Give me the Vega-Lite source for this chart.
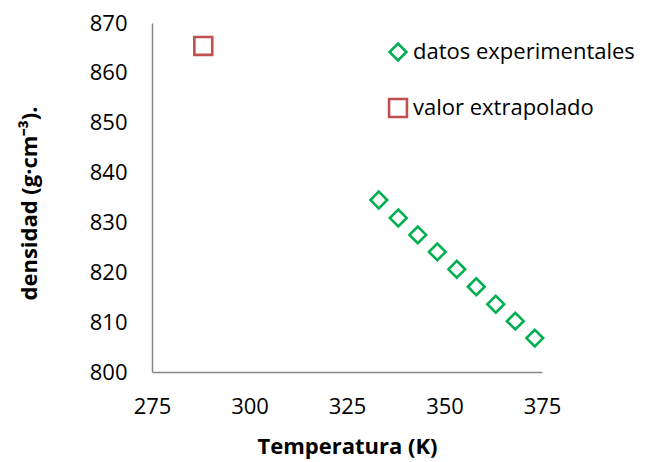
{
  "$schema": "https://vega.github.io/schema/vega-lite/v6.json",
  "width": 390,
  "height": 349,
  "autosize": {"type": "none"},
  "padding": {"left": 152, "top": 23, "right": 106, "bottom": 90},
  "background": "white",
  "config": {
    "view": {"stroke": null},
    "font": "Open Sans",
    "axis": {
      "grid": false,
      "ticks": false,
      "tickSize": 0,
      "domainColor": "#878787",
      "domainWidth": 1.5,
      "labelFont": "Open Sans",
      "labelFontSize": 22,
      "labelColor": "#000000",
      "titleFont": "Open Sans",
      "titleFontSize": 22,
      "titleFontWeight": "bold",
      "titleColor": "#000000"
    },
    "legend": {
      "labelFont": "Open Sans",
      "labelFontSize": 22,
      "labelColor": "#000000",
      "labelLimit": 400
    }
  },
  "data": {
    "values": [
      {"T": 333.15, "densidad": 834.5, "serie": "datos experimentales"},
      {"T": 338.15, "densidad": 830.9, "serie": "datos experimentales"},
      {"T": 343.15, "densidad": 827.5, "serie": "datos experimentales"},
      {"T": 348.15, "densidad": 824.1, "serie": "datos experimentales"},
      {"T": 353.15, "densidad": 820.6, "serie": "datos experimentales"},
      {"T": 358.15, "densidad": 817.1, "serie": "datos experimentales"},
      {"T": 363.15, "densidad": 813.6, "serie": "datos experimentales"},
      {"T": 368.15, "densidad": 810.2, "serie": "datos experimentales"},
      {"T": 373.15, "densidad": 806.8, "serie": "datos experimentales"},
      {"T": 288.15, "densidad": 865.4, "serie": "valor extrapolado"}
    ]
  },
  "mark": {"type": "point", "filled": false, "strokeWidth": 2.6, "opacity": 1},
  "encoding": {
    "x": {
      "field": "T",
      "type": "quantitative",
      "scale": {"domain": [275, 375], "nice": false, "zero": false},
      "axis": {
        "values": [275, 300, 325, 350, 375],
        "labelPadding": 24,
        "labelFlush": false,
        "title": "Temperatura (K)",
        "titleBaseline": "alphabetic",
        "titleY": 81
      }
    },
    "y": {
      "field": "densidad",
      "type": "quantitative",
      "scale": {"domain": [800, 870], "nice": false, "zero": false},
      "axis": {
        "values": [800, 810, 820, 830, 840, 850, 860, 870],
        "labelPadding": 25,
        "labelFlush": false,
        "title": "densidad (g·cm⁻³).",
        "titleAngle": -90,
        "titleAlign": "center",
        "titleBaseline": "alphabetic",
        "titleX": -116,
        "titleY": 180
      }
    },
    "color": {
      "field": "serie",
      "type": "nominal",
      "scale": {
        "domain": ["datos experimentales", "valor extrapolado"],
        "range": ["#00B050", "#C0504D"]
      },
      "legend": {
        "title": null,
        "orient": "none",
        "legendX": 235,
        "legendY": 18,
        "padding": 0,
        "symbolSize": 290,
        "symbolStrokeWidth": 2.6,
        "labelOffset": 4,
        "rowPadding": 27
      }
    },
    "shape": {
      "field": "serie",
      "type": "nominal",
      "scale": {
        "domain": ["datos experimentales", "valor extrapolado"],
        "range": ["diamond", "square"]
      }
    },
    "size": {
      "field": "serie",
      "type": "nominal",
      "scale": {
        "domain": ["datos experimentales", "valor extrapolado"],
        "range": [280, 320]
      },
      "legend": null
    }
  }
}
